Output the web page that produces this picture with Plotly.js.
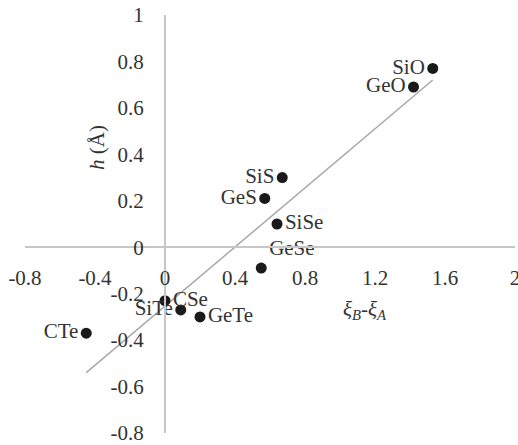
<!DOCTYPE html>
<html>
<head>
<meta charset="utf-8">
<script src="https://cdn.plot.ly/plotly-3.0.1.min.js"></script>
<style>
html,body{margin:0;padding:0;background:#fff;}
#chart{width:518px;height:445px;}
</style>
</head>
<body>
<div id="chart"></div>
<script>
// Data
const compounds = ["SiO", "GeO", "SiS", "GeS", "SiSe", "GeSe", "CSe", "SiTe", "GeTe", "CTe"];
const xiDiff = [1.53, 1.42, 0.67, 0.57, 0.64, 0.55, 0.00, 0.09, 0.20, -0.45];
const hValues = [0.77, 0.69, 0.30, 0.21, 0.10, -0.09, -0.23, -0.27, -0.30, -0.37];
const labelPositions = ["middle left", "middle left", "middle left", "middle left", "middle right",
                        "top right", "middle right", "middle left", "middle right", "middle left"];
// Linear trend line end points
const trendX = [-0.45, 1.53];
const trendY = [-0.54, 0.72];
// Tick labels
const xTickVals = [-0.8, -0.4, 0, 0.4, 0.8, 1.2, 1.6, 2];
const xTickText = ["-0.8", "-0.4", "0", "0.4", "0.8", "1.2", "1.6", "2"];
const yTickVals = [-0.8, -0.6, -0.4, -0.2, 0, 0.2, 0.4, 0.6, 0.8, 1];
const yTickText = ["-0.8", "-0.6", "-0.4", "-0.2", "0", "0.2", "0.4", "0.6", "0.8", "1"];

const serif = "serif";
const textColor = "#333333";
const axisColor = "#c6c6c6";

const traces = [
  {
    x: trendX, y: trendY, mode: "lines", type: "scatter",
    line: {color: "#a8a8a8", width: 1.5}, hoverinfo: "skip", showlegend: false
  },
  {
    x: xiDiff, y: hValues, text: compounds, mode: "markers+text", type: "scatter",
    textposition: labelPositions,
    textfont: {family: serif, size: 21, color: textColor},
    marker: {color: "#1a1a1a", size: 11},
    showlegend: false
  }
];

const layout = {
  width: 518, height: 445,
  margin: {l: 25, r: 3, t: 15, b: 12},
  paper_bgcolor: "#ffffff", plot_bgcolor: "#ffffff",
  showlegend: false,
  font: {family: serif, size: 21, color: textColor},
  xaxis: {
    range: [-0.8, 2], anchor: "free", position: 0.8 / 1.8,
    tickvals: xTickVals, ticktext: xTickText,
    showgrid: false, zeroline: false,
    showline: true, linecolor: axisColor, linewidth: 2,
    ticks: "", ticklabelstandoff: 12, ticklabeloverflow: "allow",
    tickfont: {family: serif, size: 21, color: textColor}
  },
  yaxis: {
    range: [-0.8, 1], anchor: "free", position: 0.8 / 2.8,
    tickvals: yTickVals, ticktext: yTickText,
    showgrid: false, zeroline: false,
    showline: true, linecolor: axisColor, linewidth: 2,
    ticks: "", ticklabelstandoff: 16, ticklabeloverflow: "allow",
    tickfont: {family: serif, size: 21, color: textColor}
  },
  annotations: [
    {
      text: "<i>h</i> (Å)", xref: "paper", yref: "paper",
      x: (97 - 25) / 490, y: (433 - 148) / 418, xanchor: "center", yanchor: "middle",
      showarrow: false, textangle: -90,
      font: {family: serif, size: 21, color: textColor}
    },
    {
      text: "<i>ξ<sub>B</sub>-ξ<sub>A</sub></i>", xref: "paper", yref: "paper",
      x: (365 - 25) / 490, y: (433 - 310) / 418, xanchor: "center", yanchor: "middle",
      showarrow: false,
      font: {family: serif, size: 21, color: textColor}
    }
  ]
};

Plotly.newPlot("chart", traces, layout, {displayModeBar: false, staticPlot: true});
</script>
</body>
</html>
